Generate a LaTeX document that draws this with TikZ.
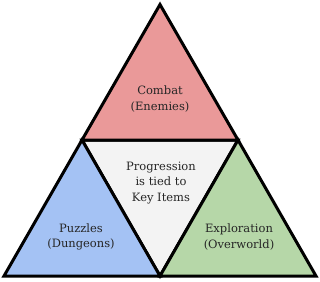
\documentclass[tikz,border=0pt]{standalone}
\usepackage{fontspec}
\setmainfont{DejaVu Serif}
\usetikzlibrary{positioning}

\definecolor{combatred}{HTML}{EA9999}
\definecolor{puzzleblue}{HTML}{A4C2F4}
\definecolor{explgreen}{HTML}{B6D7A8}
\definecolor{coregray}{HTML}{F3F3F3}

\begin{document}
\begin{tikzpicture}[
    x=1pt, y=-1pt,
    part/.style={draw=black, line width=3pt, miter limit=20, line join=miter},
    label/.style={align=center, font=\fontsize{11.5}{15.5}\selectfont, text=black!85}
]
\useasboundingbox (0,0) rectangle (320,281);

% corners of the big triangle and the midpoints
\coordinate (top) at (160,4.5);
\coordinate (bl) at (4,276);
\coordinate (br) at (316,276);
\coordinate (ml) at (82,140);
\coordinate (mr) at (238,140);
\coordinate (bm) at (160,276);

\filldraw[part, fill=coregray] (ml) -- (mr) -- (bm) -- cycle;
\filldraw[part, fill=combatred] (top) -- (mr) -- (ml) -- cycle;
\filldraw[part, fill=puzzleblue] (ml) -- (bm) -- (bl) -- cycle;
\filldraw[part, fill=explgreen] (mr) -- (br) -- (bm) -- cycle;

\node[label] (combat) at (160,99) {Combat\\(Enemies)};
\node[label] (core) at (161,183) {Progression\\is tied to\\Key Items};
\node[label] (puzzles) at (81,237) {Puzzles\\(Dungeons)};
\node[label] (explore) at (239,237) {Exploration\\(Overworld)};
\end{tikzpicture}
\end{document}
